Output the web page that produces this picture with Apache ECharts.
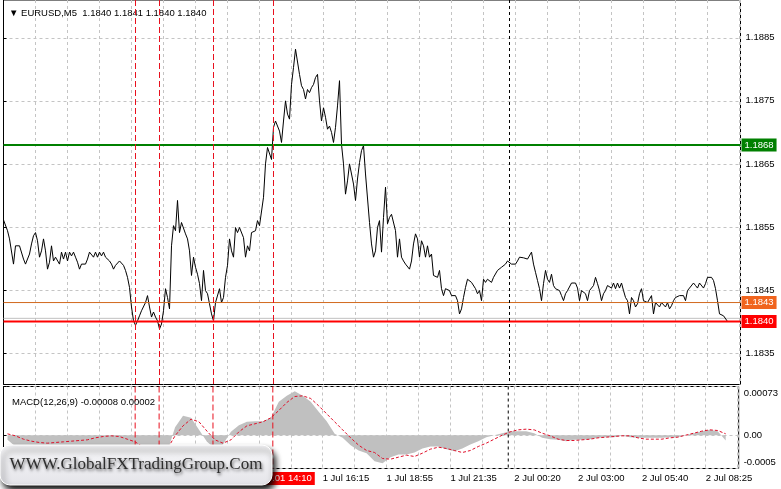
<!DOCTYPE html>
<html><head><meta charset="utf-8">
<script src="https://cdn.jsdelivr.net/npm/echarts@6/dist/echarts.min.js"></script>
<style>html,body{margin:0;padding:0;background:#fff}#c{width:781px;height:489px}</style>
</head><body><div id="c"></div>
<script>
// ---------------- data ----------------
const symbolName = 'EURUSD,M5';
const lastBar = ['1.1840', '1.1841', '1.1840', '1.1840'];

// M5 close prices, one per bar (bar 0 = leftmost)
const closePrices = [
1.18561,1.18560,1.18544,1.18531,1.18531,1.18491,1.18520,1.18520,1.18520,1.18518,
1.18499,1.18491,1.18494,1.18507,1.18523,1.18536,1.18541,1.18528,1.18502,1.18512,
1.18531,1.18512,1.18483,1.18494,1.18520,1.18496,1.18502,1.18499,1.18491,1.18510,
1.18499,1.18510,1.18496,1.18510,1.18504,1.18510,1.18502,1.18494,1.18483,1.18491,
1.18491,1.18491,1.18499,1.18510,1.18512,1.18502,1.18510,1.18502,1.18510,1.18504,
1.18510,1.18502,1.18502,1.18496,1.18491,1.18483,1.18489,1.18491,1.18496,1.18499,
1.18489,1.18481,1.18470,1.18454,1.18423,1.18401,1.18394,1.18401,1.18409,1.18417,
1.18420,1.18430,1.18441,1.18423,1.18407,1.18415,1.18407,1.18401,1.18388,1.18396,
1.18417,1.18452,1.18438,1.18420,1.18520,1.18552,1.18544,1.18592,1.18541,1.18557,
1.18560,1.18539,1.18531,1.18512,1.18473,1.18502,1.18486,1.18475,1.18460,1.18433,
1.18481,1.18449,1.18444,1.18428,1.18412,1.18401,1.18430,1.18433,1.18452,1.18430,
1.18438,1.18470,1.18489,1.18531,1.18512,1.18502,1.18549,1.18541,1.18549,1.18549,
1.18533,1.18502,1.18520,1.18512,1.18541,1.18541,1.18544,1.18560,1.18552,
1.18555,1.18597,1.18650,1.18676,1.18679,1.18657,1.18708,1.18718,1.18721,1.18702,
1.18684,1.18718,1.18750,1.18729,1.18721,1.18776,1.18803,1.18832,1.18832,1.18792,
1.18774,1.18768,1.18753,1.18768,1.18763,1.18771,1.18776,1.18787,1.18792,1.18750,
1.18718,1.18739,1.18724,1.18705,1.18710,1.18700,1.18684,1.18708,1.18742,1.18782,
1.18681,1.18650,1.18602,1.18623,1.18650,1.18650,1.18618,1.18592,1.18626,1.18652,
1.18671,1.18679,1.18634,1.18631,1.18557,1.18523,1.18502,1.18512,1.18549,1.18560,
1.18510,1.18565,1.18613,1.18555,1.18565,1.18570,1.18568,1.18544,1.18502,1.18531,
1.18502,1.18496,1.18491,1.18489,1.18483,1.18496,1.18523,1.18539,1.18531,1.18502,
1.18528,1.18520,1.18502,1.18520,1.18502,1.18507,1.18473,1.18470,1.18470,1.18481,
1.18452,1.18441,1.18452,1.18452,1.18449,1.18441,1.18441,1.18441,1.18433,1.18412,
1.18420,1.18438,1.18454,1.18467,1.18470,1.18462,1.18460,1.18452,1.18444,1.18449,
1.18433,1.18467,1.18462,1.18467,1.18470,1.18462,1.18470,1.18467,1.18481,1.18483,
1.18486,1.18489,1.18491,1.18496,1.18496,1.18491,1.18491,1.18491,1.18496,1.18502,
1.18501,1.18501,1.18501,1.18499,1.18496,1.18510,1.18491,1.18478,1.18465,1.18452,
1.18433,1.18460,1.18481,1.18467,1.18462,1.18475,1.18457,1.18452,1.18452,1.18449,
1.18441,1.18433,1.18444,1.18449,1.18452,1.18461,1.18461,1.18461,1.18453,1.18433,
1.18449,1.18452,1.18444,1.18433,1.18449,1.18452,1.18457,1.18470,1.18460,1.18449,
1.18433,1.18444,1.18449,1.18457,1.18460,1.18453,1.18461,1.18452,1.18461,1.18453,
1.18461,1.18449,1.18438,1.18433,1.18412,1.18438,1.18433,1.18423,1.18428,1.18444,
1.18452,1.18433,1.18433,1.18430,1.18433,1.18441,1.18412,1.18430,1.18433,1.18423,
1.18430,1.18430,1.18423,1.18430,1.18420,1.18425,1.18433,1.18438,1.18441,1.18441,
1.18438,1.18441,1.18433,1.18449,1.18453,1.18452,1.18461,1.18457,1.18453,1.18461,
1.18461,1.18453,1.18460,1.18470,1.18470,1.18470,1.18465,1.18452,1.18433,1.18412,
1.18412,1.18409,1.18409,1.18400
];

// MACD(12,26,9), read every 4 bars starting at bar 2
const macdStartBar = 2;
const macdStepBars = 4;
const macdHist = [
-0.00007,-0.00017,-0.00023,-0.00026,-0.00024,-0.00021,-0.00018,-0.00017,-0.00017,-0.00017,
-0.00017,-0.00017,-0.00017,-0.00018,-0.00020,-0.00024,-0.00035,-0.00045,-0.00050,-0.00047,
-0.00026,0.00012,0.00029,0.00026,0.00008,-0.00010,-0.00020,-0.00014,0.00005,0.00015,
0.00020,0.00021,0.00021,0.00026,0.00050,0.00059,0.00066,0.00059,0.00050,0.00035,
0.00021,0.00002,-0.00004,-0.00015,-0.00023,-0.00027,-0.00039,-0.00042,-0.00033,-0.00029,
-0.00029,-0.00026,-0.00020,-0.00017,-0.00017,-0.00021,-0.00024,-0.00020,-0.00014,-0.00009,
-0.00003,0.00000,0.00003,0.00006,0.00006,0.00006,0.00003,-0.00004,-0.00006,-0.00007,
-0.00009,-0.00007,-0.00007,-0.00006,-0.00004,-0.00003,-0.00003,-0.00001,-0.00003,-0.00004,
-0.00004,-0.00004,-0.00004,-0.00003,-0.00003,0.00000,0.00003,0.00006,0.00008,0.00006,
-0.00008
];
const macdSignal = [
0.00002,-0.00001,-0.00006,-0.00009,-0.00011,-0.00012,-0.00011,-0.00010,-0.00009,-0.00008,
-0.00007,-0.00004,-0.00002,-0.00001,-0.00002,-0.00006,-0.00010,-0.00018,-0.00026,-0.00030,
-0.00021,-0.00001,0.00014,0.00024,0.00020,0.00006,-0.00007,-0.00012,-0.00007,0.00005,
0.00014,0.00017,0.00020,0.00026,0.00037,0.00049,0.00058,0.00059,0.00055,0.00044,
0.00032,0.00020,0.00008,-0.00004,-0.00015,-0.00023,-0.00026,-0.00035,-0.00036,-0.00033,
-0.00030,-0.00032,-0.00027,-0.00021,-0.00018,-0.00020,-0.00023,-0.00026,-0.00023,-0.00017,
-0.00012,-0.00006,0.00000,0.00005,0.00008,0.00009,0.00008,0.00003,-0.00001,-0.00006,
-0.00008,-0.00008,-0.00007,-0.00006,-0.00004,-0.00003,-0.00002,-0.00001,-0.00001,-0.00004,
-0.00006,-0.00006,-0.00006,-0.00004,-0.00003,0.00000,0.00003,0.00006,0.00008,0.00007,
0.00002
];

const timeLabelBars = [160, 192, 224, 256, 288, 320, 352];
const timeLabels = ['1 Jul 16:15', '1 Jul 18:55', '1 Jul 21:35', '2 Jul 00:20', '2 Jul 03:00', '2 Jul 05:40', '2 Jul 08:25'];
const priceTicks = [1.1835, 1.1845, 1.1855, 1.1865, 1.1875, 1.1885];
const macdTicks = [-0.0005, 0, 0.00073];
const levelPrices = [1.1868, 1.1843, 1.1840];
const bidPrice = 1.18405;
const redVLineBars = [66, 78, 105, 135];
const redVLineLabel = '2021.07.01 14:10';
const daySeparatorBar = 253;
const watermarkText = 'WWW.GlobalFXTradingGroup.Com';

// ---------------- chart ----------------
const FONT = '"Liberation Sans", Arial, sans-serif';
const FS = 9.5;
const gridGrey = '#c4c4c4';
const X_MIN = 0, X_MAX = 368.5;
const P_MIN = 1.1830, P_MAX = 1.1891;
const M_MIN = -0.0005, M_MAX = 0.00073;
const levelColors = ['#008000', '#d2691e', '#ff0000'];
const levelLabelBg = ['#008000', '#f0641e', '#ff0000'];
const levelWidths = [2, 1, 2];
const vRed = '#e8101e';

const labelMap = {};
timeLabelBars.forEach((b, k) => { labelMap[b] = timeLabels[k]; });

const priceData = closePrices.map((p, i) => [i, p]);
const histData = macdHist.map((v, j) => [macdStartBar + j * macdStepBars, v]);
const sigData = macdSignal.map((v, j) => [macdStartBar + j * macdStepBars, v]);

// vertical marker lines in the price panel: custom series, positions through the axis scale
const vLineItems = redVLineBars.map(b => [b, 0]).concat([[daySeparatorBar, 1]]);

const series = [];

// bid line
series.push({
  type: 'line', xAxisIndex: 0, yAxisIndex: 0, showSymbol: false, symbol: 'none', animation: false,
  data: [[X_MIN, bidPrice], [X_MAX, bidPrice]], lineStyle: { color: '#c0c0c0', width: 1 }
});
// price line
series.push({
  name: 'price', type: 'line', xAxisIndex: 0, yAxisIndex: 0, showSymbol: false, symbol: 'none', animation: false,
  data: priceData, lineStyle: { color: '#000', width: 1 }
});
// horizontal levels
levelPrices.forEach((p, k) => series.push({
  type: 'line', xAxisIndex: 0, yAxisIndex: 0, showSymbol: false, symbol: 'none', animation: false,
  data: [[X_MIN, p], [X_MAX, p]], lineStyle: { color: levelColors[k], width: levelWidths[k] },
  endLabel: { show: true, distance: 1, formatter: p.toFixed(4), backgroundColor: levelLabelBg[k],
    color: '#fff', padding: [2, 3, 1, 3], fontSize: FS, fontFamily: FONT }
}));
// main panel vertical lines (custom series)
series.push({
  type: 'custom', xAxisIndex: 0, yAxisIndex: 0, z: 10, silent: true, animation: false,
  data: vLineItems,
  encode: { x: 0 },
  renderItem: function (params, api) {
    const b = api.value(0);
    const kind = api.value(1);
    const top = api.coord([b, P_MAX]);
    const bot = api.coord([b, P_MIN]);
    return {
      type: 'line',
      shape: { x1: top[0], y1: top[1], x2: bot[0], y2: bot[1] },
      style: kind === 0
        ? { stroke: vRed, lineWidth: 1, lineDash: [6, 3], fill: null }
        : { stroke: '#000000', lineWidth: 1, lineDash: [3, 3], fill: null }
    };
  }
});

// MACD histogram and signal
series.push({
  name: 'macd', type: 'line', xAxisIndex: 1, yAxisIndex: 1, showSymbol: false, symbol: 'none', animation: false,
  data: histData, lineStyle: { width: 0, color: '#c0c0c0' }, areaStyle: { color: '#c0c0c0', opacity: 1 }
});
series.push({
  name: 'signal', type: 'line', xAxisIndex: 1, yAxisIndex: 1, showSymbol: false, symbol: 'none', animation: false,
  data: sigData, lineStyle: { color: '#e0102a', width: 1, type: [3, 2] }
});
// MACD panel vertical lines
redVLineBars.forEach((b, k) => {
  const s = {
    type: 'line', xAxisIndex: 1, yAxisIndex: 1, showSymbol: false, symbol: 'none', animation: false,
    data: [[b, M_MAX], [b, M_MIN]], lineStyle: { color: vRed, width: 1, type: [6, 3] }
  };
  if (k === redVLineBars.length - 1) {
    s.endLabel = { show: true, distance: 0, offset: [-38, 10], formatter: redVLineLabel,
      backgroundColor: '#ff0000', color: '#fff', padding: [2, 3, 1, 3], fontSize: FS, fontFamily: FONT };
  }
  series.push(s);
});
series.push({
  type: 'line', xAxisIndex: 1, yAxisIndex: 1, showSymbol: false, symbol: 'none', animation: false,
  data: [[daySeparatorBar, M_MAX], [daySeparatorBar, M_MIN]], lineStyle: { color: '#000', width: 1, type: [3, 3] }
});

const chart = echarts.init(document.getElementById('c'), null, { renderer: 'canvas' });
chart.setOption({
  animation: false,
  backgroundColor: '#fff',
  tooltip: { show: false },
  title: [
    { text: '▼ ' + symbolName + '  ' + lastBar.join(' '), left: 4, top: 3,
      textStyle: { fontSize: FS, fontWeight: 'normal', color: '#000', fontFamily: FONT } },
    { text: 'MACD(12,26,9) ' + macdHist[macdHist.length - 1].toFixed(5) + ' ' + macdSignal[macdSignal.length - 1].toFixed(5),
      left: 7, top: 392, textStyle: { fontSize: FS, fontWeight: 'normal', color: '#000', fontFamily: FONT } }
  ],
  grid: [
    { left: 3.5, right: 40.5, top: -1, height: 385.5, show: true, borderColor: '#000', borderWidth: 1, backgroundColor: 'transparent' },
    { left: 3.5, right: 40.5, top: 386.5, height: 82, show: true, borderColor: '#000', borderWidth: 1, backgroundColor: 'transparent' }
  ],
  xAxis: [
    { type: 'value', gridIndex: 0, min: X_MIN, max: X_MAX, interval: 16,
      axisLine: { show: false }, axisTick: { show: false }, axisLabel: { show: false },
      splitLine: { show: true, lineStyle: { color: gridGrey, type: [3, 3], width: 1 } } },
    { type: 'value', gridIndex: 1, min: X_MIN, max: X_MAX, interval: 16,
      axisLine: { show: false }, axisTick: { show: false },
      axisLabel: { show: true, align: 'left', margin: 5, fontSize: FS, fontFamily: FONT, color: '#000',
        showMinLabel: false, showMaxLabel: false,
        formatter: v => labelMap[v] || '' },
      splitLine: { show: true, lineStyle: { color: gridGrey, type: [3, 3], width: 1 } } }
  ],
  yAxis: [
    { type: 'value', gridIndex: 0, position: 'right', min: P_MIN, max: P_MAX,
      axisLine: { show: true, lineStyle: { color: '#000', width: 1 } },
      axisTick: { show: true, inside: false, length: 3, customValues: priceTicks, lineStyle: { color: '#000' } },
      axisLabel: { show: true, customValues: priceTicks, margin: 5, fontSize: FS, fontFamily: FONT, color: '#000',
        formatter: v => v.toFixed(4) },
      splitLine: { show: true, lineStyle: { color: gridGrey, type: [3, 3], width: 1 } } },
    { type: 'value', gridIndex: 1, position: 'right', min: M_MIN, max: M_MAX,
      axisLine: { show: true, lineStyle: { color: '#000', width: 1 } },
      axisTick: { show: true, inside: false, length: 3, customValues: macdTicks, lineStyle: { color: '#000' } },
      axisLabel: { show: true, customValues: macdTicks, margin: 5, fontSize: FS, fontFamily: FONT, color: '#000',
        showMinLabel: true, showMaxLabel: true,
        formatter: v => {
          if (v === 0) return '{m|0.00}';
          if (v < 0) return '{b|' + String(v) + '}';
          return '{t|' + String(v) + '}';
        },
        rich: {
          t: { fontSize: FS, fontFamily: FONT, color: '#000', padding: [14, 0, 0, 0] },
          m: { fontSize: FS, fontFamily: FONT, color: '#000' },
          b: { fontSize: FS, fontFamily: FONT, color: '#000', padding: [0, 0, 12, 0] }
        } },
      splitLine: { show: true, lineStyle: { color: gridGrey, type: [3, 3], width: 1 } } }
  ],
  series: series,
  graphic: [
    { type: 'rect', z: 100, zlevel: 2, shape: { x: 0, y: 445, width: 272, height: 40, r: 10 },
      style: { fill: new echarts.graphic.LinearGradient(0, 0, 0, 1, [
          { offset: 0, color: '#f8f8fa' }, { offset: 1, color: '#e4e4e9' }]),
        stroke: '#ffffff', lineWidth: 1,
        shadowBlur: 6, shadowColor: 'rgba(0,0,0,0.95)', shadowOffsetX: 3, shadowOffsetY: 5 } },
    { type: 'text', z: 101, zlevel: 2, style: { text: watermarkText, x: 136, y: 465, align: 'center', verticalAlign: 'middle',
        fontSize: 17, fontFamily: '"Liberation Serif", "Times New Roman", serif', fill: '#2e2e2e',
        textShadowBlur: 3, textShadowColor: 'rgba(0,0,0,0.6)', textShadowOffsetX: 1, textShadowOffsetY: 2 } }
  ]
});
</script>
</body></html>
